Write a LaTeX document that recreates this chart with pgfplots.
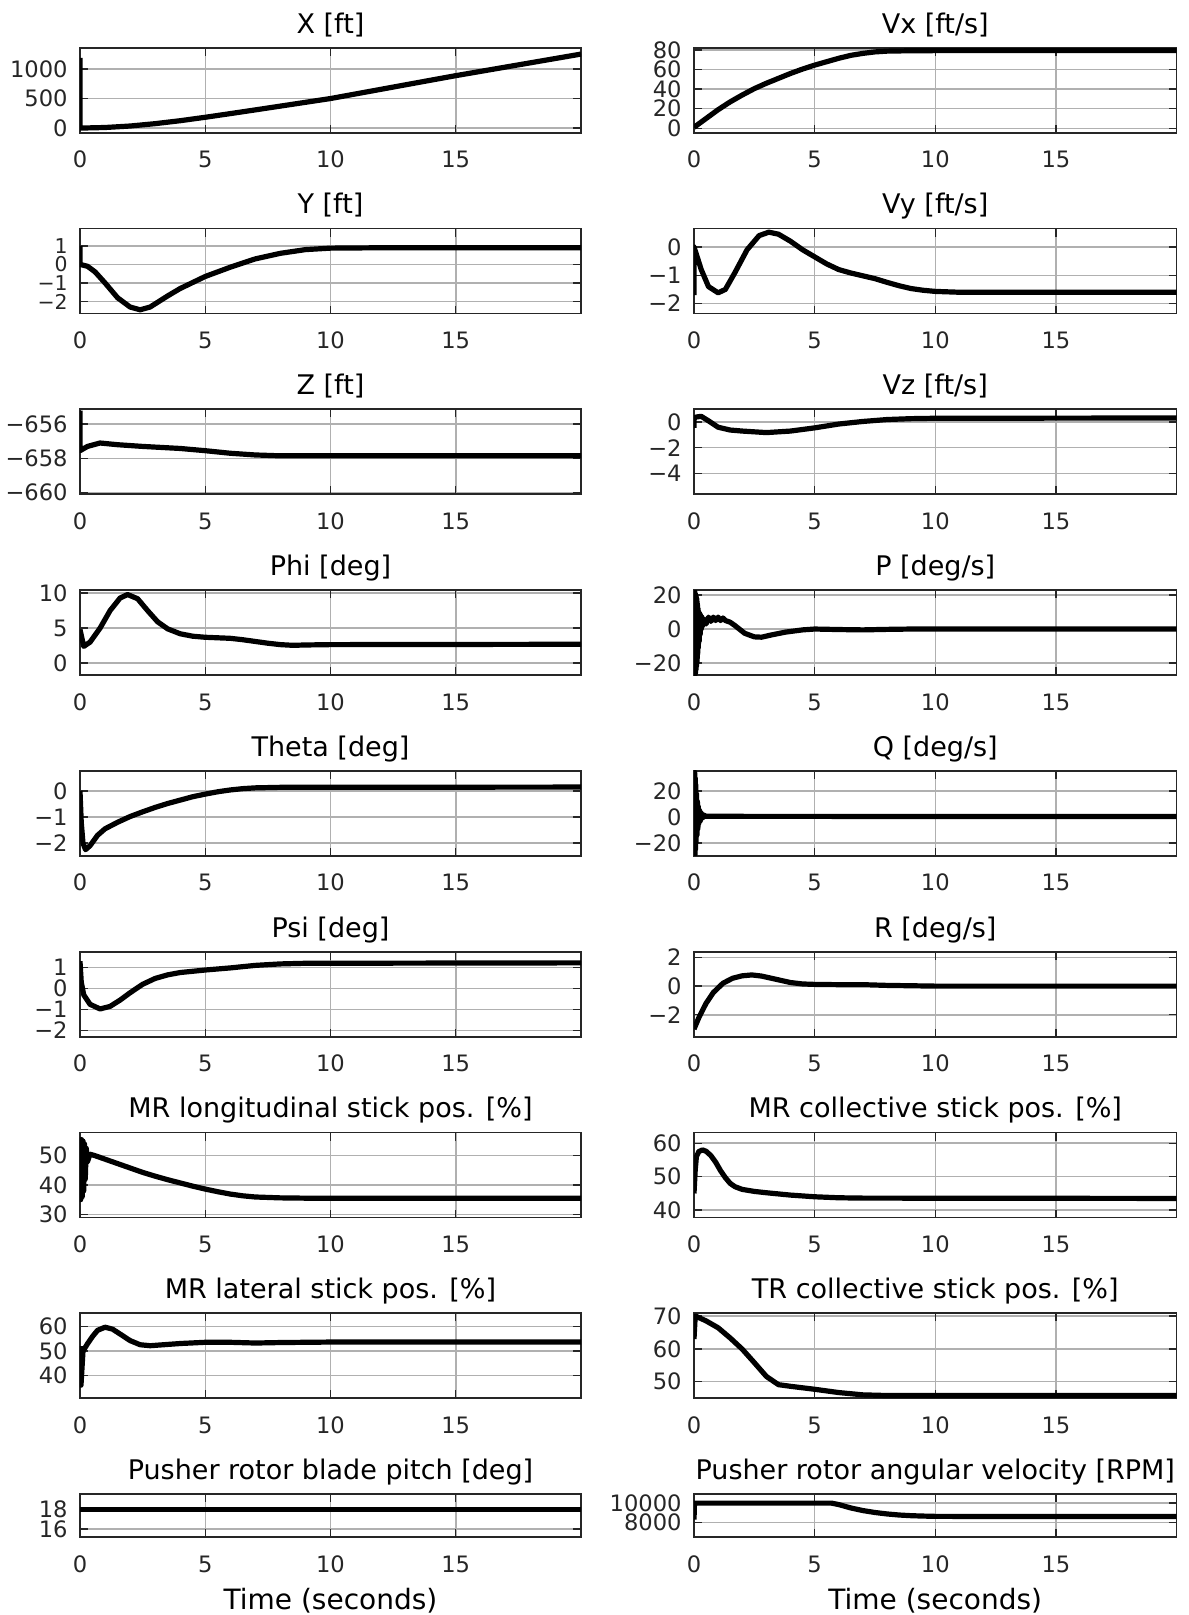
\documentclass[border=0pt]{standalone}
\usepackage{fontspec}
\setmainfont{DejaVu Sans}
\usepackage{pgfplots}
\pgfplotsset{compat=1.18}
\pgfplotsset{
  sp/.style={
    scale only axis, anchor=north west, no markers,
    xmin=0, xmax=20, xtick={0,5,10,15}, xticklabels={0,5,10,15},
    scaled y ticks=false, scaled x ticks=false,
    grid=major, major grid style={gray!62, line width=0.75bp},
    axis line style={black!85, line width=0.9bp},
    tick align=inside, major tick length=4bp,
    tick style={black!85, line width=0.7bp},
    tick label style={font=\fontsize{11.3bp}{12bp}\selectfont, text=black!85},
    yticklabel style={anchor=east, inner sep=0pt, xshift=-6bp},
    xticklabel style={anchor=base, inner sep=0pt, yshift=-17.5bp},
    every axis title/.style={at={(0.5,1)}, anchor=base, yshift=7.35bp,
      font=\fontsize{13.5bp}{16bp}\selectfont},
  },
  L/.style={sp, width=250.5bp, height=42.5bp},
  R/.style={sp, width=241.25bp, height=42.5bp},
  cur/.style={black, line width=2.6bp, line join=round},
}
\begin{document}
\begin{tikzpicture}
\path[use as bounding box] (0,0) rectangle (594.5bp,-807.5bp);
% ---------- Row 1
\begin{axis}[L, at={(40bp,-23.85bp)}, title={X [ft]},
  ymin=-78, ymax=1360, ytick={0,500,1000}, yticklabels={0,500,1000}]
\addplot[cur] coordinates {(0,1190) (0,0) (1,10) (2,35) (3,75) (4,125) (5,183) (6,245) (7,308) (8,372) (9,436) (10,500) (12,655) (14,810) (15,887) (16,960) (18,1106) (20,1252)};
\end{axis}
\begin{axis}[R, at={(347bp,-23.85bp)}, title={Vx [ft/s]},
  ymin=-4.5, ymax=82.3, ytick={0,20,40,60,80}, yticklabels={0,20,40,60,80}]
\addplot[cur] coordinates {(0,1) (0.5,10) (1,19) (1.5,27) (2,34) (2.5,40.5) (3,46) (3.5,51) (4,56) (4.5,60.5) (5,64.5) (5.5,68) (6,71.5) (6.5,74.5) (7,76.5) (7.5,78) (8,78.8) (9,79.2) (10,79.3) (20,79.3)};
\end{axis}
% ---------- Row 2
\begin{axis}[L, at={(40bp,-114.25bp)}, title={Y [ft]},
  ymin=-2.65, ymax=1.94, ytick={-2,-1,0,1}, yticklabels={−2,−1,0,1},
  yticklabel style={font=\fontsize{10.2bp}{11bp}\selectfont}]
\addplot[cur] coordinates {(0,1.0) (0,0) (0.3,-0.1) (0.6,-0.4) (1,-1.0) (1.5,-1.8) (2,-2.3) (2.4,-2.45) (2.8,-2.3) (3.5,-1.7) (4,-1.3) (5,-0.65) (6,-0.15) (7,0.3) (8,0.6) (9,0.8) (10,0.88) (12,0.9) (20,0.9)};
\end{axis}
\begin{axis}[R, at={(347bp,-114.25bp)}, title={Vy [ft/s]},
  ymin=-2.35, ymax=0.65, ytick={-2,-1,0}, yticklabels={−2,−1,0}]
\addplot[cur] coordinates {(0,-1.7) (0,0) (0.3,-0.8) (0.6,-1.4) (1,-1.62) (1.3,-1.5) (1.7,-0.9) (2.2,-0.1) (2.7,0.4) (3.1,0.52) (3.5,0.45) (4,0.2) (4.5,-0.1) (5,-0.35) (5.5,-0.6) (6,-0.8) (6.5,-0.92) (7,-1.02) (7.5,-1.12) (8,-1.25) (8.5,-1.37) (9,-1.47) (9.5,-1.53) (10,-1.57) (11,-1.6) (20,-1.6)};
\end{axis}
% ---------- Row 3
\begin{axis}[L, at={(40bp,-204.65bp)}, title={Z [ft]},
  ymin=-660.1, ymax=-655.13, ytick={-660,-658,-656}, yticklabels={−660,−658,−656}]
\addplot[cur] coordinates {(0,-655.2) (0,-657.55) (0.3,-657.3) (0.8,-657.1) (1.5,-657.2) (2.5,-657.3) (4,-657.42) (5,-657.55) (6,-657.7) (7,-657.8) (8,-657.85) (20,-657.85)};
\end{axis}
\begin{axis}[R, at={(347bp,-204.65bp)}, title={Vz [ft/s]},
  ymin=-5.64, ymax=1.0, ytick={-4,-2,0}, yticklabels={−4,−2,0}]
\addplot[cur] coordinates {(0,-0.45) (0,0.3) (0.1,0.4) (0.3,0.45) (0.6,0.1) (1,-0.4) (1.5,-0.62) (2,-0.7) (3,-0.82) (4,-0.7) (5,-0.45) (6,-0.15) (7,0.05) (8,0.2) (9,0.27) (10,0.3) (20,0.32)};
\end{axis}
% ---------- Row 4
\begin{axis}[L, at={(40bp,-295.05bp)}, title={Phi [deg]},
  ymin=-1.7, ymax=10.43, ytick={0,5,10}, yticklabels={0,5,10}]
\addplot[cur] coordinates {(0,4.8) (0.15,2.4) (0.4,3.0) (0.8,5.0) (1.2,7.5) (1.6,9.3) (1.9,9.8) (2.3,9.2) (2.7,7.5) (3.1,5.9) (3.5,4.9) (4,4.2) (4.5,3.85) (5,3.7) (6,3.55) (6.5,3.35) (7,3.1) (7.5,2.85) (8,2.65) (8.5,2.55) (9,2.6) (10,2.65) (20,2.7)};
\end{axis}
\begin{axis}[R, at={(347bp,-295.05bp)}, title={P [deg/s]},
  ymin=-27.1, ymax=22.9, ytick={-20,0,20}, yticklabels={−20,0,20}]
\addplot[cur] coordinates {(0,0) (0.01,22) (0.02,-27) (0.03,22) (0.04,-27) (0.05,21) (0.06,-26) (0.07,20) (0.08,-24) (0.09,19) (0.1,-22) (0.11,18) (0.12,-20) (0.13,16) (0.14,-17) (0.15,14) (0.16,-14) (0.17,12) (0.18,-11) (0.2,10) (0.22,-7) (0.24,9) (0.26,-3) (0.28,8) (0.3,0) (0.33,7) (0.36,2) (0.4,6) (0.5,3) (0.6,7) (0.7,4.5) (0.8,7) (0.9,5) (1.0,7) (1.1,5) (1.2,6.5) (1.3,5) (1.5,4) (1.7,2) (2.1,-2.5) (2.5,-4.6) (2.8,-4.8) (3.2,-3.5) (3.8,-1.8) (4.5,-0.5) (5,0) (6,-0.3) (7,-0.5) (8,-0.2) (9,0) (20,0)};
\end{axis}
% ---------- Row 5
\begin{axis}[L, at={(40bp,-385.45bp)}, title={Theta [deg]},
  ymin=-2.49, ymax=0.77, ytick={-2,-1,0}, yticklabels={−2,−1,0}]
\addplot[cur] coordinates {(0,0) (0.05,-1.2) (0.12,-2.0) (0.22,-2.25) (0.4,-2.1) (0.7,-1.7) (1.0,-1.45) (1.5,-1.2) (2,-0.98) (2.5,-0.8) (3,-0.63) (3.5,-0.48) (4,-0.35) (4.5,-0.22) (5,-0.12) (5.5,-0.03) (6,0.04) (6.5,0.09) (7,0.12) (8,0.14) (20,0.15)};
\end{axis}
\begin{axis}[R, at={(347bp,-385.45bp)}, title={Q [deg/s]},
  ymin=-29.9, ymax=35.4, ytick={-20,0,20}, yticklabels={−20,0,20}]
\addplot[cur] coordinates {(0,0) (0.01,35) (0.02,-29) (0.03,34) (0.04,-29) (0.05,30) (0.06,-25) (0.07,25) (0.08,-20) (0.1,18) (0.12,-14) (0.14,12) (0.16,-9) (0.18,8) (0.2,-5) (0.23,5) (0.26,-3) (0.3,3) (0.35,-1) (0.4,1.5) (0.5,0.5) (1,0.5) (20,0.3)};
\end{axis}
% ---------- Row 6
\begin{axis}[L, at={(40bp,-475.85bp)}, title={Psi [deg]},
  ymin=-2.29, ymax=1.75, ytick={-2,-1,0,1}, yticklabels={−2,−1,0,1}]
\addplot[cur] coordinates {(0,1.3) (0.05,0.3) (0.15,-0.3) (0.4,-0.75) (0.8,-0.97) (1.2,-0.85) (1.6,-0.55) (2,-0.2) (2.5,0.2) (3,0.48) (3.5,0.65) (4,0.76) (5,0.88) (6,0.98) (7,1.1) (8,1.17) (9,1.2) (20,1.22)};
\end{axis}
\begin{axis}[R, at={(347bp,-475.85bp)}, title={R [deg/s]},
  ymin=-3.53, ymax=2.4, ytick={-2,0,2}, yticklabels={−2,0,2}]
\addplot[cur] coordinates {(0,-3.0) (0.2,-2.2) (0.5,-1.2) (0.8,-0.45) (1.2,0.2) (1.6,0.55) (2,0.72) (2.4,0.78) (2.8,0.7) (3.2,0.55) (3.6,0.4) (4,0.25) (4.5,0.15) (5,0.12) (6,0.1) (7,0.1) (8,0.05) (10,0) (20,0)};
\end{axis}
% ---------- Row 7
\begin{axis}[L, at={(40bp,-566.25bp)}, title={MR longitudinal stick pos. [\%]},
  ymin=28.9, ymax=57.9, ytick={30,40,50}, yticklabels={30,40,50}]
\addplot[cur] coordinates {(0,52) (0.03,35) (0.06,55.5) (0.09,36) (0.12,55) (0.15,38) (0.18,54) (0.21,42) (0.25,52.5) (0.3,48) (0.4,50.5) (0.6,50) (1,48.8) (1.5,47.3) (2,45.8) (2.5,44.3) (3,43) (3.5,41.8) (4,40.7) (4.5,39.6) (5,38.6) (5.5,37.7) (6,36.9) (6.5,36.3) (7,35.9) (8,35.6) (9,35.5) (20,35.5)};
\end{axis}
\begin{axis}[R, at={(347bp,-566.25bp)}, title={MR collective stick pos. [\%]},
  ymin=37.8, ymax=63.2, ytick={40,50,60}, yticklabels={40,50,60}]
\addplot[cur] coordinates {(0,45) (0.05,52) (0.1,56) (0.2,57.5) (0.35,58) (0.5,57.6) (0.7,56.3) (0.9,54.3) (1.1,51.8) (1.3,49.7) (1.5,48) (1.7,47) (2,46.2) (2.5,45.6) (3,45.2) (4,44.5) (5,44) (6,43.7) (7,43.6) (20,43.5)};
\end{axis}
% ---------- Row 8
\begin{axis}[L, at={(40bp,-656.65bp)}, title={MR lateral stick pos. [\%]},
  ymin=30.6, ymax=65.5, ytick={40,50,60}, yticklabels={40,50,60}]
\addplot[cur] coordinates {(0,52) (0.04,36) (0.12,50) (0.3,53) (0.5,56) (0.7,58.5) (1,59.8) (1.3,59) (1.6,57) (2,54.3) (2.4,52.6) (2.8,52.2) (3.2,52.5) (4,53.1) (5,53.6) (6,53.6) (7,53.3) (8,53.5) (10,53.7) (20,53.7)};
\end{axis}
\begin{axis}[R, at={(347bp,-656.65bp)}, title={TR collective stick pos. [\%]},
  ymin=44.95, ymax=70.8, ytick={50,60,70}, yticklabels={50,60,70}]
\addplot[cur] coordinates {(0,63) (0.05,70) (0.2,69.5) (0.5,68.5) (1,66.4) (1.5,63.3) (2,59.9) (2.5,55.8) (3,51.6) (3.5,49.1) (4,48.6) (5,47.7) (6,46.7) (7,46.0) (8,45.8) (20,45.8)};
\end{axis}
% ---------- Row 9
\begin{axis}[L, height=21.5bp, at={(40bp,-747.05bp)}, title={Pusher rotor blade pitch [deg]},
  ymin=15.2, ymax=19.5, ytick={16,18}, yticklabels={16,18},
  xlabel={Time (seconds)},
  xlabel style={at={(axis description cs:0.5,0)}, anchor=base, yshift=-36bp, inner sep=0pt, font=\fontsize{14bp}{16bp}\selectfont}]
\addplot[cur] coordinates {(0,18) (20,18)};
\end{axis}
\begin{axis}[R, height=21.5bp, at={(347bp,-747.05bp)}, title={Pusher rotor angular velocity [RPM]},
  ymin=6483, ymax=10931, ytick={8000,10000}, yticklabels={8000,10000},
  xlabel={Time (seconds)},
  xlabel style={at={(axis description cs:0.5,0)}, anchor=base, yshift=-36bp, inner sep=0pt, font=\fontsize{14bp}{16bp}\selectfont}]
\addplot[cur] coordinates {(0,8300) (0.02,10000) (5.7,10000) (6,9850) (6.5,9500) (7,9230) (7.5,9030) (8,8880) (8.5,8770) (9,8700) (9.5,8660) (10,8630) (12,8620) (20,8620)};
\end{axis}
\end{tikzpicture}
\end{document}
